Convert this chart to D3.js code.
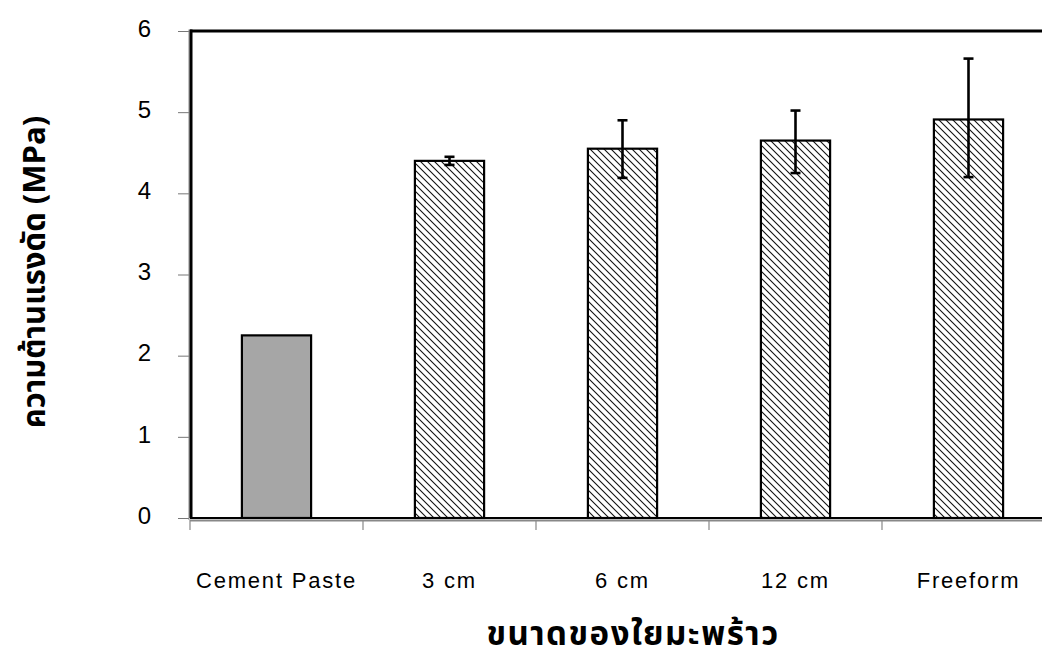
<!DOCTYPE html>
<html>
<head>
<meta charset="utf-8">
<script src="https://cdn.jsdelivr.net/npm/d3@7"></script>
<style>
  html, body { margin: 0; padding: 0; background: #fff; }
  svg { display: block; }
</style>
</head>
<body>
<svg id="chart" width="1042" height="663"></svg>
<script>
// Flexural strength by coconut fibre length
const categories = ["Cement Paste", "3 cm", "6 cm", "12 cm", "Freeform"];
const strength   = [2.25, 4.40, 4.55, 4.65, 4.91];
const errLow     = [null, 4.35, 4.19, 4.25, 4.20];
const errHigh    = [null, 4.45, 4.90, 5.02, 5.66];
const yTicks     = [0, 1, 2, 3, 4, 5, 6];
const xTitle = "ขนาดของใยมะพร้าว";
const yTitle = "ความต้านแรงดัด (MPa)";

const svg = d3.select("#chart");
const m = { left: 190, top: 31, right: 1055, bottom: 518 };
const latin = "Liberation Sans, Arial, sans-serif";
const thai = "Noto Sans Thai, Tahoma, sans-serif";

const x = d3.scaleBand()
  .domain(categories)
  .range([m.left, m.right])
  .paddingInner(0.6)
  .paddingOuter(0.3);

const y = d3.scaleLinear().domain([0, 6]).range([m.bottom, m.top]);

// diagonal hatch for fibre-reinforced samples
const defs = svg.append("defs");
const pat = defs.append("pattern")
  .attr("id", "hatch")
  .attr("patternUnits", "userSpaceOnUse")
  .attr("width", 7).attr("height", 7);
pat.append("rect").attr("width", 7).attr("height", 7).attr("fill", "#fff");
pat.append("path")
  .attr("d", "M-1,-1L8,8M-1,6L1,8M6,-1L8,1")
  .attr("stroke", "#111").attr("stroke-width", 1.1);

// top frame line
svg.append("line")
  .attr("x1", m.left).attr("x2", 1042)
  .attr("y1", m.top).attr("y2", m.top)
  .attr("stroke", "#000").attr("stroke-width", 3);

// bars
svg.append("g").selectAll("rect")
  .data(categories)
  .join("rect")
  .attr("x", d => x(d))
  .attr("width", x.bandwidth())
  .attr("y", (d, i) => y(strength[i]))
  .attr("height", (d, i) => y(0) - y(strength[i]))
  .attr("fill", (d, i) => i === 0 ? "#a6a6a6" : "url(#hatch)")
  .attr("stroke", "#000")
  .attr("stroke-width", 2.2);

// error bars
const eg = svg.append("g");
categories.forEach((c, i) => {
  if (errLow[i] == null) return;
  const cx = x(c) + x.bandwidth() / 2;
  eg.append("line")
    .attr("x1", cx).attr("x2", cx)
    .attr("y1", y(errLow[i])).attr("y2", y(errHigh[i]))
    .attr("stroke", "#000").attr("stroke-width", 2.6);
  [errLow[i], errHigh[i]].forEach(v => {
    eg.append("line")
      .attr("x1", cx - 5).attr("x2", cx + 5)
      .attr("y1", y(v)).attr("y2", y(v))
      .attr("stroke", "#000").attr("stroke-width", 2.6);
  });
});

// y axis
const yAxis = d3.axisLeft(y).tickValues(yTicks).tickSize(11).tickPadding(27).tickFormat(d3.format("d"));
const yg = svg.append("g").attr("transform", `translate(${m.left - 1},0)`).call(yAxis);
yg.select(".domain").remove();
yg.selectAll(".tick line").attr("stroke", "#777").attr("stroke-width", 1);
yg.selectAll(".tick text")
  .attr("font-family", latin)
  .attr("font-size", 24).attr("fill", "#000").attr("dy", "0.22em");
svg.append("line")
  .attr("x1", m.left - 1).attr("x2", m.left - 1)
  .attr("y1", m.top - 1.5).attr("y2", m.bottom + 2)
  .attr("stroke", "#888").attr("stroke-width", 1);
svg.append("line")
  .attr("x1", m.left + 1).attr("x2", m.left + 1)
  .attr("y1", m.top - 1.5).attr("y2", m.bottom)
  .attr("stroke", "#000").attr("stroke-width", 3);

// x axis
const xEdges = d3.range(categories.length + 1).map(i => m.left + i * x.step());
svg.append("g").selectAll("line")
  .data(xEdges)
  .join("line")
  .attr("x1", d => d).attr("x2", d => d)
  .attr("y1", m.bottom + 2).attr("y2", m.bottom + 12)
  .attr("stroke", "#888").attr("stroke-width", 1.2);
svg.append("line")
  .attr("x1", m.left).attr("x2", 1042)
  .attr("y1", m.bottom + 2.5).attr("y2", m.bottom + 2.5)
  .attr("stroke", "#888").attr("stroke-width", 2);
svg.append("line")
  .attr("x1", m.left).attr("x2", 1042)
  .attr("y1", m.bottom).attr("y2", m.bottom)
  .attr("stroke", "#000").attr("stroke-width", 2);

svg.append("g").selectAll("text")
  .data(categories)
  .join("text")
  .attr("x", d => x(d) + x.bandwidth() / 2)
  .attr("y", 588)
  .attr("text-anchor", "middle")
  .attr("font-family", latin)
  .attr("font-size", 22)
  .attr("letter-spacing", 1.8)
  .attr("fill", "#000")
  .text(d => d);

// axis titles
svg.append("text")
  .attr("x", 633).attr("y", 645)
  .attr("text-anchor", "middle")
  .attr("font-family", thai)
  .attr("font-weight", "bold")
  .attr("font-size", 33)
  .attr("letter-spacing", 1.5)
  .attr("fill", "#000")
  .text(xTitle);

svg.append("text")
  .attr("transform", "translate(45,272) rotate(-90)")
  .attr("text-anchor", "middle")
  .attr("font-family", thai)
  .attr("font-weight", "bold")
  .attr("font-size", 31)
  .attr("fill", "#000")
  .text(yTitle);
</script>
</body>
</html>
